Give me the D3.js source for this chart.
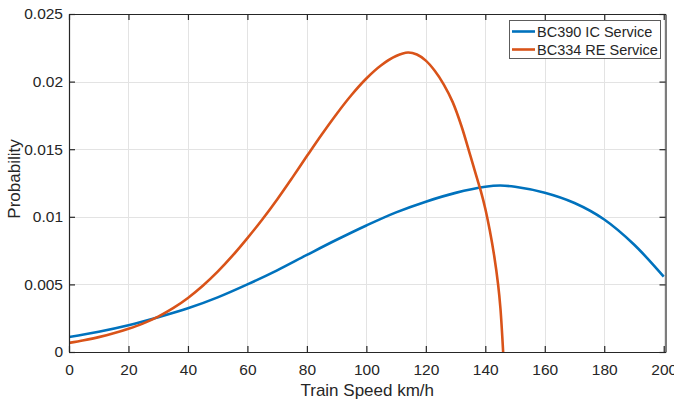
<!DOCTYPE html>
<html>
<head>
<meta charset="utf-8">
<script src="https://cdn.jsdelivr.net/npm/d3@7"></script>
<style>
html,body{margin:0;padding:0;background:#fff;}
svg{display:block;}
text{font-family:"Liberation Sans",Arial,Helvetica,sans-serif;fill:#262626;}
</style>
</head>
<body>
<svg id="chart" width="674" height="399"></svg>
<script>
// ---- data ----
const blueSpeed = [0,10,20,30,40,50,60,70,80,90,100,110,120,130,140,145,150,160,170,180,190,200];
const blueProb  = [0.00111,0.00150,0.00198,0.00257,0.00323,0.00404,0.00500,0.00604,0.00718,0.00830,0.00936,0.01033,0.01112,0.01177,0.01222,0.01231,0.01222,0.01178,0.01102,0.00980,0.00795,0.00557];

const orangeSpeed = [0,5,10,15,20,25,30,35,40,45,50,55,60,65,70,75,80,85,90,95,100,105,110,114,117,120,123,126,129,132,135,137,138.5,140,141.5,143,144.3,145.1,146];
const orangeProb  = [0.00067,0.00087,0.00110,0.00138,0.00172,0.00212,0.00262,0.00324,0.00400,0.00490,0.00594,0.00712,0.00842,0.00980,0.01128,0.01286,0.01449,0.01609,0.01761,0.01901,0.02023,0.02121,0.02189,0.02215,0.02200,0.02155,0.02080,0.01980,0.01850,0.01670,0.01450,0.01300,0.01190,0.01060,0.00900,0.00710,0.00500,0.00320,0.0];

const seriesNames = ["BC390 IC Service","BC334 RE Service"];
const seriesColors = ["#0072BD","#D95319"];

const xTicks = [0,20,40,60,80,100,120,140,160,180,200];
const yTicks = [0,0.005,0.01,0.015,0.02,0.025];
const yTickLabels = ["0","0.005","0.01","0.015","0.02","0.025"];

// ---- layout ----
const L = 69, T = 14, R = 665.5, B = 352;
const svg = d3.select("#chart");
const x = d3.scaleLinear().domain([0,200.6]).range([L,R]);
const y = d3.scaleLinear().domain([0,0.025]).range([B,T]);

const axisColor = "#262626";
const gridColor = "#e3e3e3";

// grid
const g = svg.append("g");
g.selectAll("line.gx").data(xTicks.slice(1)).enter().append("line")
  .attr("x1",d=>Math.round(x(d))+0.5).attr("x2",d=>Math.round(x(d))+0.5)
  .attr("y1",T).attr("y2",B).attr("stroke",gridColor).attr("stroke-width",1);
g.selectAll("line.gy").data(yTicks.slice(1,-1)).enter().append("line")
  .attr("y1",d=>Math.round(y(d))+0.5).attr("y2",d=>Math.round(y(d))+0.5)
  .attr("x1",L).attr("x2",R).attr("stroke",gridColor).attr("stroke-width",1);

// clip
svg.append("clipPath").attr("id","clip").append("rect")
  .attr("x",L).attr("y",T).attr("width",R-L).attr("height",B-T);

const line = d3.line().x(d=>x(d[0])).y(d=>y(d[1])).curve(d3.curveCatmullRom.alpha(0.5));
const series = [
  d3.zip(blueSpeed, blueProb),
  d3.zip(orangeSpeed, orangeProb)
];
svg.append("g").attr("clip-path","url(#clip)")
  .selectAll("path").data(series).enter().append("path")
  .attr("d",line).attr("fill","none")
  .attr("stroke",(d,i)=>seriesColors[i]).attr("stroke-width",2.6)
  .attr("stroke-linejoin","round");

// axes
const tickLen = 6;
const xAxisB = d3.axisBottom(x).tickValues(xTicks).tickSizeInner(-tickLen).tickSizeOuter(0).tickPadding(12).tickFormat(d3.format("d"));
const xAxisT = d3.axisTop(x).tickValues(xTicks).tickSizeInner(-tickLen).tickSizeOuter(0).tickFormat("");
const yAxisL = d3.axisLeft(y).tickValues(yTicks).tickSizeInner(-tickLen).tickSizeOuter(0).tickPadding(6).tickFormat((d,i)=>yTickLabels[i]);
const yAxisR = d3.axisRight(y).tickValues(yTicks).tickSizeInner(-tickLen).tickSizeOuter(0).tickFormat("");

function style(sel){
  sel.select(".domain").attr("stroke",axisColor).attr("stroke-width",1.2);
  sel.selectAll(".tick line").attr("stroke",axisColor).attr("stroke-width",1.2);
  sel.selectAll(".tick text").attr("fill",axisColor).style("font-size","15.5px")
     .style("font-family","'Liberation Sans',Arial,sans-serif");
}
svg.append("g").attr("transform",`translate(0,${B})`).call(xAxisB).call(style);
svg.append("g").attr("transform",`translate(0,${T})`).call(xAxisT).call(style);
svg.append("g").attr("transform",`translate(${L},0)`).call(yAxisL).call(style);
svg.append("g").attr("transform",`translate(${R},0)`).call(yAxisR).call(style);

// axis labels
svg.append("text").attr("x",(L+R)/2).attr("y",396).attr("text-anchor","middle")
  .style("font-size","17px").text("Train Speed km/h");
svg.append("text").attr("transform",`translate(19.5,179) rotate(-90)`).attr("text-anchor","middle")
  .style("font-size","17px").text("Probability");

// legend
const lg = svg.append("g");
lg.append("rect").attr("x",509.5).attr("y",20.5).attr("width",151).attr("height",38)
  .attr("fill","#fff").attr("stroke","#262626").attr("stroke-opacity",0.75).attr("stroke-width",1);
seriesNames.forEach((name,i)=>{
  const yy = 31.5 + i*18;
  lg.append("line").attr("x1",512).attr("x2",535).attr("y1",yy).attr("y2",yy)
    .attr("stroke",seriesColors[i]).attr("stroke-width",2.6);
  lg.append("text").attr("x",537).attr("y",yy+5).style("font-size","14.5px").text(name);
});
</script>
</body>
</html>
